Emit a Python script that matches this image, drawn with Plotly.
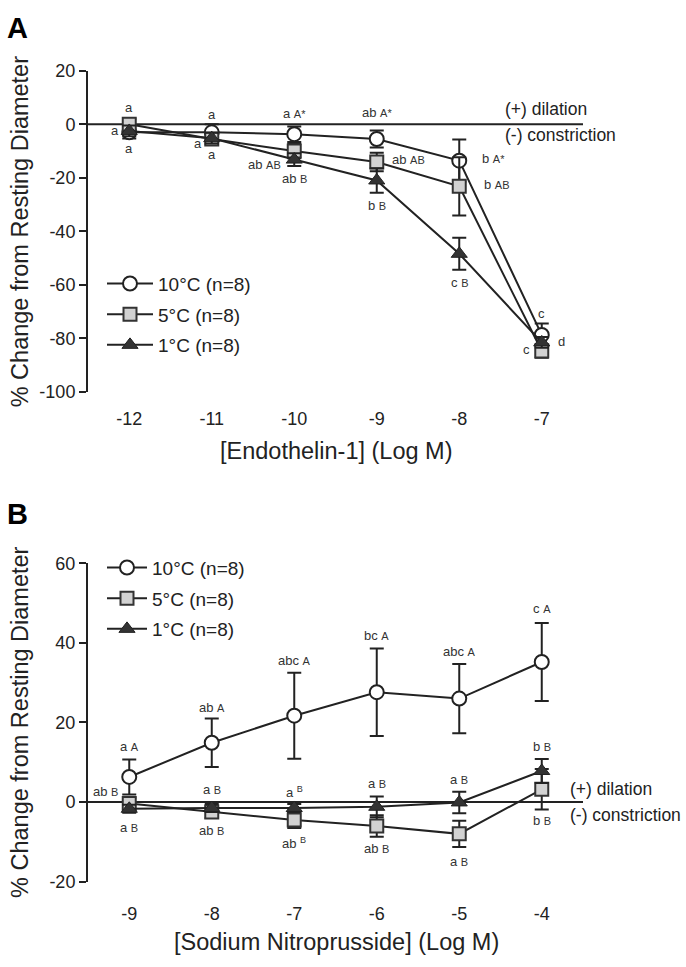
"""Vasoactive responses at three acclimation temperatures (ET-1 and SNP)."""

import plotly.graph_objects as go

W, H = 686, 967

# Panel A: endothelin-1 concentration-response
ET1_LOG = [-12, -11, -10, -9, -8, -7]
ET1_TICKS = ["-12", "-11", "-10", "-9", "-8", "-7"]
ET1_Y_TICKVALS = [20, 0, -20, -40, -60, -80, -100]
ET1_Y_TICKS = ["20", "0", "-20", "-40", "-60", "-80", "-100"]
ET1_10C = [-3.0, -3.0, -3.7, -5.5, -13.6, -78.7]
ET1_10C_SEM = [2.3, 3.0, 2.9, 3.2, 7.9, 4.3]
ET1_5C = [0.0, -5.5, -10.0, -14.1, -23.2, -84.7]
ET1_5C_SEM = [2.0, 2.0, 2.7, 3.5, 10.9, 2.5]
ET1_1C = [-2.5, -5.2, -13.2, -21.0, -48.4, -81.5]
ET1_1C_SEM = [2.0, 2.0, 2.4, 4.6, 6.0, 2.0]
ET1_10C_LETTERS = ["a", "a", "a A*", "ab A*", "b A*", "c"]
ET1_5C_LETTERS = ["a", "a", "ab AB", "ab AB", "b AB", "c"]
ET1_1C_LETTERS = ["a", "a", "ab B", "b B", "c B", "d"]

# Panel B: sodium nitroprusside concentration-response
SNP_LOG = [-9, -8, -7, -6, -5, -4]
SNP_TICKS = ["-9", "-8", "-7", "-6", "-5", "-4"]
SNP_Y_TICKVALS = [60, 40, 20, 0, -20]
SNP_Y_TICKS = ["60", "40", "20", "0", "-20"]
SNP_10C = [6.3, 14.9, 21.7, 27.6, 26.0, 35.2]
SNP_10C_SEM = [4.4, 6.1, 10.8, 11.0, 8.7, 9.8]
SNP_5C = [-0.4, -2.5, -4.5, -6.0, -8.0, 3.2]
SNP_5C_SEM = [1.5, 1.5, 2.0, 2.7, 3.3, 5.1]
SNP_1C = [-1.7, -1.5, -1.5, -1.2, -0.1, 7.8]
SNP_1C_SEM = [1.0, 1.0, 1.0, 2.6, 2.7, 3.0]
SNP_10C_LETTERS = ["a A", "ab A", "abc A", "bc A", "abc A", "c A"]
SNP_5C_LETTERS = ["ab B", "ab B", "ab <sup>B</sup>", "ab B", "a B", "b B"]
SNP_1C_LETTERS = ["a B", "a B", "a <sup>B</sup>", "a B", "a B", "b B"]

SERIES_NAMES = ["10°C (n=8)", "5°C (n=8)", "1°C (n=8)"]

FONT = "Arial, Liberation Sans, sans-serif"
INK = "#222222"

# marker styles per series
STYLES = [
    dict(symbol="circle", size=14, color="white", line=dict(color=INK, width=2)),
    dict(symbol="square", size=13, color="#d2d2d2", line=dict(color="#333333", width=2)),
    dict(symbol="triangle-up", size=14, color="#333333", line=dict(color=INK, width=1)),
]

# letter placement (xanchor, xshift, yshift) per point
PLACE_A = [
    [("center", 0, -16), ("center", 0, 18), ("center", 0, 21), ("center", 0, 26),
     ("left", 21, 2), ("center", 0, 21)],
    [("center", 0, 17), ("center", -14, -5), ("right", -11, -13), ("left", 13, 2),
     ("left", 23, 2), ("center", -15, 1)],
    [("center", -14, 0), ("center", 0, -16), ("center", 0, -19), ("center", 0, -25),
     ("center", 0, -29), ("center", 20, 1)],
]
PLACE_B = [
    [("center", 0, 30), ("center", 0, 35), ("center", 0, 55), ("center", 0, 57),
     ("center", 0, 47), ("center", 0, 53)],
    [("right", -9, 12), ("center", 0, -19), ("center", 0, -23), ("center", 0, -23),
     ("center", 0, -28), ("center", 0, -31)],
    [("center", 0, -19), ("center", 0, 18), ("center", 0, 16), ("center", 0, 23),
     ("center", 0, 23), ("center", 0, 24)],
]


def px_x(p):
    return p / W


def px_y(p):
    return 1 - p / H


def letter_text(s):
    if "<sup>" in s:
        return s
    parts = s.split(" ")
    if len(parts) == 1:
        return s
    return parts[0] + " <span style='font-size:11px'>" + parts[1] + "</span>"


fig = go.Figure()

panels = [
    dict(x=ET1_LOG, ys=[ET1_10C, ET1_5C, ET1_1C], errs=[ET1_10C_SEM, ET1_5C_SEM, ET1_1C_SEM],
         letters=[ET1_10C_LETTERS, ET1_5C_LETTERS, ET1_1C_LETTERS], place=PLACE_A,
         xaxis="x", yaxis="y", legend="legend"),
    dict(x=SNP_LOG, ys=[SNP_10C, SNP_5C, SNP_1C], errs=[SNP_10C_SEM, SNP_5C_SEM, SNP_1C_SEM],
         letters=[SNP_10C_LETTERS, SNP_5C_LETTERS, SNP_1C_LETTERS], place=PLACE_B,
         xaxis="x2", yaxis="y2", legend="legend2"),
]

annotations = []
for p in panels:
    for k in range(3):
        fig.add_trace(go.Scatter(
            x=p["x"], y=p["ys"][k], name=SERIES_NAMES[k],
            mode="lines+markers",
            line=dict(color=INK, width=2),
            marker=STYLES[k],
            error_y=dict(type="data", array=p["errs"][k], color=INK, thickness=2, width=7),
            xaxis=p["xaxis"], yaxis=p["yaxis"], legend=p["legend"],
            legendgroup=p["legend"] + str(k),
        ))
        for i, txt in enumerate(p["letters"][k]):
            anchor, dx, dy = p["place"][k][i]
            annotations.append(dict(
                x=p["x"][i], y=p["ys"][k][i], xref=p["xaxis"], yref=p["yaxis"],
                text=letter_text(txt), showarrow=False,
                xanchor=anchor, yanchor="middle", xshift=dx, yshift=dy,
                font=dict(family=FONT, size=13, color="#333333"),
            ))

# zero reference lines
for xa, ya in [("x", "y"), ("x2", "y2")]:
    fig.add_shape(type="line", xref=xa + " domain", yref=ya, x0=0, x1=1, y0=0, y1=0,
                  line=dict(color=INK, width=2), layer="below")

# text labels: dilation / constriction, panel letters, axis titles
for lx, ly1, ly2 in [(503, 101, 128), (568, 795, 822)]:
    annotations.append(dict(x=px_x(lx), y=px_y(ly1), xref="paper", yref="paper",
                            text="(+) dilation", showarrow=False, xanchor="left",
                            yanchor="middle", font=dict(family=FONT, size=17.5, color=INK)))
    annotations.append(dict(x=px_x(lx), y=px_y(ly2), xref="paper", yref="paper",
                            text="(-) constriction", showarrow=False, xanchor="left",
                            yanchor="middle", font=dict(family=FONT, size=17.5, color=INK)))

for letter, ly in [("A", 18), ("B", 515)]:
    annotations.append(dict(x=px_x(17), y=px_y(ly), xref="paper", yref="paper",
                            text="<b>" + letter + "</b>", showarrow=False,
                            xanchor="center", yanchor="middle",
                            font=dict(family=FONT, size=29, color="black")))

for ly in [226, 727]:
    annotations.append(dict(x=px_x(20), y=px_y(ly), xref="paper", yref="paper",
                            text="% Change from Resting Diameter", showarrow=False,
                            textangle=-90, xanchor="center", yanchor="middle",
                            font=dict(family=FONT, size=23.5, color=INK)))

for txt, ly in [("[Endothelin-1] (Log M)", 450), ("[Sodium Nitroprusside] (Log M)", 952)]:
    annotations.append(dict(x=px_x(336), y=px_y(ly), xref="paper", yref="paper",
                            text=txt, showarrow=False, xanchor="center", yanchor="middle",
                            font=dict(family=FONT, size=23.5, color=INK)))

x_dom = [px_x(88), px_x(583)]
xcommon = dict(domain=x_dom, showline=False, showgrid=False, zeroline=False,
               ticks="", tickfont=dict(family=FONT, size=18, color=INK))
ycommon = dict(showline=True, linecolor=INK, linewidth=2, showgrid=False, zeroline=False,
               ticks="outside", ticklen=7, tickwidth=2, tickcolor=INK,
               tickfont=dict(family=FONT, size=18, color=INK))

legend_common = dict(font=dict(family=FONT, size=19, color=INK), bgcolor="rgba(0,0,0,0)",
                     xanchor="left", yanchor="top", tracegroupgap=3)

fig.update_layout(
    width=W, height=H,
    margin=dict(l=0, r=0, t=0, b=0),
    paper_bgcolor="white", plot_bgcolor="white",
    xaxis=dict(xcommon, range=[-12.5, -6.5], anchor="y", ticklabelstandoff=14,
               tickvals=ET1_LOG, ticktext=ET1_TICKS),
    yaxis=dict(ycommon, range=[-100, 20], domain=[px_y(390), px_y(62)], anchor="x",
               tickvals=ET1_Y_TICKVALS, ticktext=ET1_Y_TICKS),
    xaxis2=dict(xcommon, range=[-9.5, -3.5], anchor="y2", ticklabelstandoff=19,
                tickvals=SNP_LOG, ticktext=SNP_TICKS),
    yaxis2=dict(ycommon, range=[-20, 60], domain=[px_y(890), px_y(565)], anchor="x2",
                tickvals=SNP_Y_TICKVALS, ticktext=SNP_Y_TICKS),
    legend=dict(legend_common, x=px_x(102), y=px_y(260), itemwidth=46),
    legend2=dict(legend_common, x=px_x(102), y=px_y(550), itemwidth=40),
    annotations=annotations,
    showlegend=True,
)

fig.write_html("out.html", config={"displayModeBar": False},
               post_script="document.body.style.margin='0';")
